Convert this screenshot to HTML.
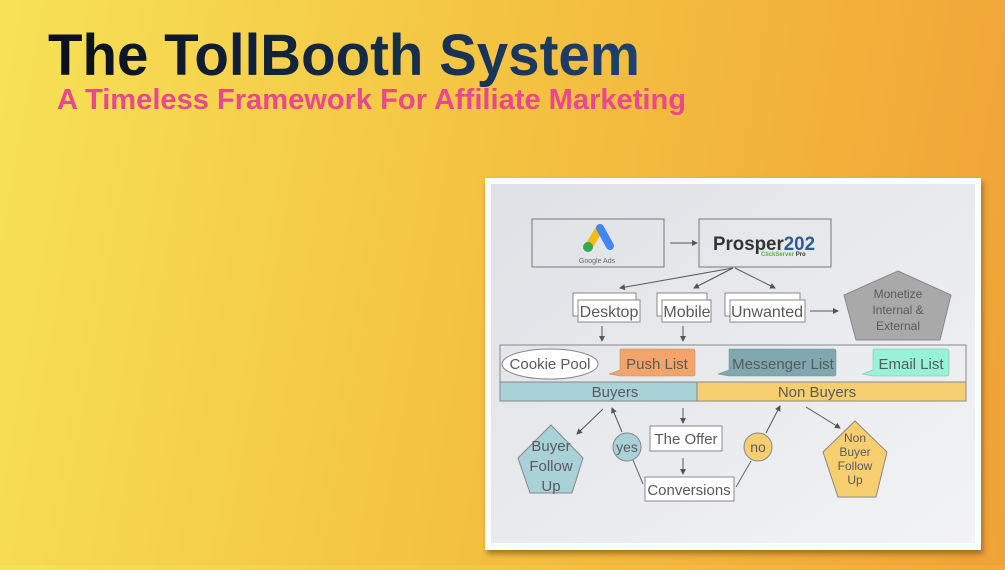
<!DOCTYPE html>
<html><head><meta charset="utf-8"><style>
html,body{margin:0;padding:0}
body{width:1005px;height:565px;overflow:hidden;background:linear-gradient(100deg,#f7e257 0%,#f4c442 45%,#f0a236 100%)}
text{font-family:"Liberation Sans",sans-serif}
.t{font-family:"Liberation Sans",sans-serif;fill:#5a5a5a}
</style></head><body>
<svg width="1005" height="565" viewBox="0 0 1005 565" xmlns="http://www.w3.org/2000/svg">
<defs>
<linearGradient id="tg" x1="0" x2="1"><stop offset="0" stop-color="#0b0f18"/><stop offset="1" stop-color="#1d4270"/></linearGradient>
<linearGradient id="pg" x1="0" y1="0" x2="1" y2="1"><stop offset="0" stop-color="#dfe1e6"/><stop offset="1" stop-color="#f2f3f5"/></linearGradient>
<marker id="a" markerWidth="6" markerHeight="6" refX="5" refY="3" orient="auto"><path d="M0,0 L6,3 L0,6 z" fill="#555"/></marker>
<filter id="sh"><feDropShadow dx="2" dy="4" stdDeviation="3" flood-color="#6a4a10" flood-opacity="0.6"/></filter>
</defs>
<text x="48" y="75" font-size="58" font-weight="bold" fill="url(#tg)" textLength="592" lengthAdjust="spacingAndGlyphs">The TollBooth System</text>
<text x="57" y="109" font-size="29" font-weight="bold" fill="#e9488e" textLength="629" lengthAdjust="spacingAndGlyphs">A Timeless Framework For Affiliate Marketing</text>

<rect x="485" y="178" width="496" height="372" fill="#fff" filter="url(#sh)"/>
<rect x="491" y="184" width="484" height="359" fill="url(#pg)"/>

<g fill="none" stroke="#777" stroke-width="1">
<rect x="532" y="219" width="132" height="48"/>
<rect x="699" y="219" width="132" height="48"/>
</g>
<line x1="589" y1="246" x2="600" y2="228" stroke="#f5bb14" stroke-width="8" stroke-linecap="round"/>
<line x1="600" y1="228" x2="610" y2="246" stroke="#4285f4" stroke-width="8" stroke-linecap="round"/>
<circle cx="588" cy="247" r="5" fill="#34a853"/>
<text x="597" y="263" font-size="7" fill="#666" text-anchor="middle">Google Ads</text>
<text x="713" y="250" font-size="19" font-weight="bold" fill="#333" textLength="102" lengthAdjust="spacingAndGlyphs">Prosper<tspan fill="#2a5d94">202</tspan></text>
<text x="761" y="256" font-size="6" font-weight="bold" fill="#5bb14a">ClickServer <tspan fill="#333">Pro</tspan></text>

<g stroke="#555" stroke-width="1" fill="none" marker-end="url(#a)">
<line x1="670" y1="243" x2="697" y2="243"/>
<line x1="733" y1="268" x2="620" y2="288"/>
<line x1="733" y1="268" x2="694" y2="288"/>
<line x1="735" y1="268" x2="775" y2="288"/>
<line x1="810" y1="311" x2="838" y2="311"/>
<line x1="602" y1="326" x2="602" y2="341"/>
<line x1="683" y1="326" x2="683" y2="341"/>
<line x1="603" y1="409" x2="577" y2="434"/>
<line x1="622" y1="432" x2="612" y2="408"/>
<line x1="683" y1="408" x2="683" y2="423"/>
<line x1="683" y1="458" x2="683" y2="474"/>
<line x1="766" y1="433" x2="780" y2="406"/>
<line x1="806" y1="407" x2="840" y2="428"/>
</g>
<g stroke="#666" stroke-width="1">
<line x1="633" y1="460" x2="643" y2="484"/>
<line x1="736" y1="487" x2="751" y2="461"/>
</g>

<g fill="#fff" stroke="#888" stroke-width="1">
<rect x="573" y="293" width="63" height="23"/><rect x="578" y="300" width="62" height="22"/>
<rect x="657" y="293" width="50" height="23"/><rect x="662" y="300" width="49" height="22"/>
<rect x="725" y="293" width="75" height="23"/><rect x="730" y="300" width="75" height="22"/>
</g>
<text class="t" x="609" y="317" font-size="16" text-anchor="middle">Desktop</text>
<text class="t" x="687" y="317" font-size="16" text-anchor="middle">Mobile</text>
<text class="t" x="767" y="317" font-size="16" text-anchor="middle">Unwanted</text>

<polygon points="898,271 951,295 940,340 856,340 844,295" fill="#a9a9a9" stroke="#888"/>
<text class="t" font-size="12" text-anchor="middle"><tspan x="898" y="298">Monetize</tspan><tspan x="898" y="314">Internal &amp;</tspan><tspan x="898" y="330">External</tspan></text>

<rect x="500" y="345" width="466" height="56" fill="none" stroke="#888"/>
<ellipse cx="550" cy="364" rx="48" ry="15" fill="#fff" stroke="#888"/>
<text class="t" x="550" y="369" font-size="15" text-anchor="middle">Cookie Pool</text>
<path d="M620,349 h73 q2,0 2,2 v23 q0,2 -2,2 h-73 l-11,-2 l11,-4 z" fill="#f2a46b" stroke="#c9855a" stroke-width="0.5"/>
<text class="t" x="657" y="369" font-size="15" text-anchor="middle">Push List</text>
<path d="M729,349 h105 q2,0 2,2 v23 q0,2 -2,2 h-105 l-11,-2 l11,-4 z" fill="#7fa8b0" stroke="#6a8f96" stroke-width="0.5"/>
<text class="t" x="783" y="369" font-size="15" text-anchor="middle">Messenger List</text>
<path d="M873,349 h74 q2,0 2,2 v23 q0,2 -2,2 h-74 l-11,-2 l11,-4 z" fill="#98f2d6" stroke="#6cc0a8" stroke-width="0.5"/>
<text class="t" x="911" y="369" font-size="15" text-anchor="middle">Email List</text>

<rect x="500" y="382" width="197" height="19" fill="#a8d1d8" stroke="#888"/>
<rect x="697" y="382" width="269" height="19" fill="#f7cf70" stroke="#888"/>
<text class="t" x="615" y="397" font-size="15" text-anchor="middle">Buyers</text>
<text class="t" x="817" y="397" font-size="15" text-anchor="middle">Non Buyers</text>

<polygon points="551,425 583,458 572,493 530,493 518,458" fill="#a8d1d8" stroke="#888"/>
<text class="t" font-size="15" text-anchor="middle"><tspan x="551" y="451">Buyer</tspan><tspan x="551" y="471">Follow</tspan><tspan x="551" y="491">Up</tspan></text>
<circle cx="627" cy="447" r="14" fill="#a8d1d8" stroke="#888"/>
<text class="t" x="627" y="452" font-size="14" text-anchor="middle">yes</text>
<rect x="650" y="426" width="72" height="25" fill="#fff" stroke="#888"/>
<text class="t" x="686" y="444" font-size="15" text-anchor="middle">The Offer</text>
<rect x="645" y="477" width="89" height="24" fill="#fff" stroke="#888"/>
<text class="t" x="689" y="495" font-size="15" text-anchor="middle">Conversions</text>
<circle cx="758" cy="447" r="14" fill="#f7cf70" stroke="#888"/>
<text class="t" x="758" y="452" font-size="14" text-anchor="middle">no</text>
<polygon points="855,421 887,452 876,497 838,497 823,452" fill="#f7cf70" stroke="#888"/>
<text class="t" font-size="12" text-anchor="middle"><tspan x="855" y="442">Non</tspan><tspan x="855" y="456">Buyer</tspan><tspan x="855" y="470">Follow</tspan><tspan x="855" y="484">Up</tspan></text>
</svg>
</body></html>
